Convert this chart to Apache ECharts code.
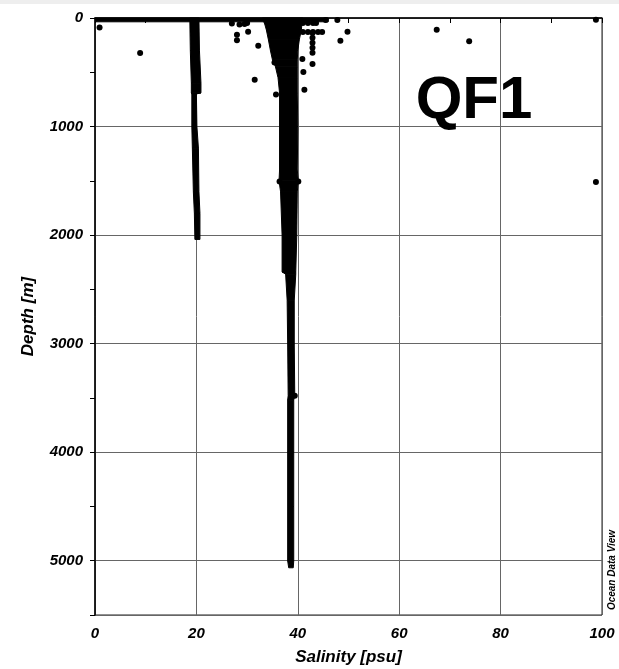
<!DOCTYPE html>
<html lang="en">
<head>
<meta charset="UTF-8">
<title>QF1 Salinity</title>
<script src="https://cdn.jsdelivr.net/npm/echarts@6/dist/echarts.min.js"></script>
<style>
    html, body { margin: 0; padding: 0; background: #fff; }
    #chart { width: 619px; height: 669px; }
</style>
</head>
<body>
<div id="chart"></div>
<script>
    // dense cloud near 20 psu (outer edges)
    var leftDepth = [0, 300, 600, 690, 700, 1000, 1200, 1600, 1800, 2040];
    var leftMin   = [18.7, 18.8, 19.0, 19.0, 19.1, 19.1, 19.2, 19.4, 19.6, 19.7];
    var leftMax   = [20.5, 20.6, 20.9, 20.9, 20.0, 20.1, 20.4, 20.5, 20.7, 20.7];

    // main cloud near 38 psu
    var mainDepth = [0, 60, 110, 200, 300, 385, 450, 550, 690, 1000, 1400, 1500, 1600, 2000, 2340, 2360, 2600, 3000, 3480, 3520, 4000, 4500, 5000, 5065];
    var mainMin   = [33.0, 33.5, 33.8, 34.2, 34.6, 35.0, 35.6, 36.1, 36.4, 36.4, 36.4, 36.3, 36.6, 36.9, 36.9, 37.6, 37.9, 38.0, 38.1, 38.0, 38.0, 38.0, 38.0, 38.2];
    var mainMax   = [41.0, 40.8, 40.7, 40.3, 40.0, 39.9, 39.9, 39.9, 39.9, 40.0, 39.9, 40.1, 39.9, 39.8, 39.6, 39.6, 39.3, 39.3, 39.4, 39.2, 39.2, 39.2, 39.2, 39.1];

    // surface band of points
    var surfDepth = [0, 35];
    var surfMin   = [0.2, 0.2];
    var surfMax   = [46.0, 46.0];

    // single stations
    var dotSal   = [0.9, 8.9, 28.0, 28.0, 30.2, 32.2, 31.5, 35.7, 35.4, 40.9, 41.1, 41.3, 42.9, 42.9, 42.9, 42.9, 42.9, 42.9,
                    49.8, 48.4, 67.4, 73.8, 98.8, 98.8, 41.0, 42.0, 43.0, 44.0, 44.8, 41.0, 42.0, 43.0, 43.6, 45.5, 47.8,
                    27.0, 28.5, 29.5, 30.0, 36.4, 40.1, 39.4];
    var dotDepth = [87, 323, 154, 206, 126, 255, 569, 704, 409, 378, 498, 661, 424, 135, 181, 227, 273, 320,
                    126, 209, 108, 215, 16, 1512, 130, 130, 130, 130, 128, 45, 45, 45, 45, 18, 18,
                    50, 60, 55, 45, 1506, 1506, 3480];

    var font = '"Liberation Sans", Arial, sans-serif';

    function bandSeries(depths, mins, maxs) {
        var rows = depths.map(function (d, i) { return [mins[i], maxs[i], d]; });
        return {
            type: 'custom',
            coordinateSystem: 'cartesian2d',
            silent: true,
            z: 3,
            data: rows.slice(0, rows.length - 1),
            encode: { x: [0, 1], y: 2 },
            renderItem: function (params, api) {
                var a = rows[params.dataIndex], b = rows[params.dataIndex + 1];
                var pts = [
                    api.coord([a[0], a[2]]), api.coord([a[1], a[2]]),
                    api.coord([b[1], b[2]]), api.coord([b[0], b[2]])
                ];
                return { type: 'polygon', shape: { points: pts }, style: { fill: '#000', stroke: '#000', lineWidth: 1 } };
            }
        };
    }

    var myChart = echarts.init(document.getElementById('chart'));
    var option = {
        animation: false,
        grid: { left: 95, top: 18, width: 507, height: 597, outerBoundsMode: 'none', containLabel: false,
                show: true, borderColor: '#222', borderWidth: 1 },
        graphic: [
            { type: 'rect', shape: { x: 0, y: 0, width: 619, height: 4 }, style: { fill: '#eeeeee' } },
            { type: 'text', x: 474, y: 101, z: 10,
              style: { text: 'QF1', font: 'bold 60px ' + font, align: 'center', verticalAlign: 'middle', fill: '#000' } },
            { type: 'text', x: 612, y: 570, rotation: Math.PI / 2, z: 10,
              style: { text: 'Ocean Data View', font: 'italic bold 10px ' + font, align: 'center', verticalAlign: 'middle', fill: '#000' } }
        ],
        xAxis: {
            type: 'value', min: 0, max: 100, interval: 20,
            name: 'Salinity [psu]', nameLocation: 'middle', nameGap: 34,
            nameTextStyle: { fontFamily: font, fontSize: 17, fontWeight: 'bold', fontStyle: 'italic', color: '#000' },
            axisLine: { show: true, lineStyle: { color: '#000', width: 1.5 } },
            axisTick: { show: true, length: 5, lineStyle: { color: '#000' } },
            minorTick: { show: true, splitNumber: 2, length: 5, lineStyle: { color: '#000' } },
            axisLabel: { margin: 11, fontFamily: font, fontSize: 15, fontWeight: 'bold', fontStyle: 'italic', color: '#000' },
            splitLine: { show: true, lineStyle: { color: '#666', width: 1 } }
        },
        yAxis: [{
            type: 'value', min: 0, max: 5500, interval: 500, inverse: true,
            name: 'Depth [m]', nameLocation: 'middle', nameGap: 58,
            nameTextStyle: { fontFamily: font, fontSize: 17, fontWeight: 'bold', fontStyle: 'italic', color: '#000' },
            axisLine: { show: true, lineStyle: { color: '#000', width: 1.5 } },
            axisTick: { show: true, length: 5, lineStyle: { color: '#000' } },
            axisLabel: {
                margin: 12, fontFamily: font, fontSize: 15, fontWeight: 'bold', fontStyle: 'italic', color: '#000',
                formatter: function (v) { return v % 1000 === 0 ? String(v) : ''; }
            },
            splitLine: { show: false }
        }, {
            type: 'value', min: 0, max: 5500, interval: 1000, inverse: true, position: 'left',
            axisLine: { show: false }, axisTick: { show: false }, axisLabel: { show: false },
            splitLine: { show: true, lineStyle: { color: '#666', width: 1 } }
        }],
        series: [
            bandSeries(surfDepth, surfMin, surfMax),
            bandSeries(leftDepth, leftMin, leftMax),
            bandSeries(mainDepth, mainMin, mainMax),
            {
                type: 'scatter',
                symbol: 'circle',
                symbolSize: 6,
                z: 4,
                itemStyle: { color: '#000', opacity: 1 },
                data: dotSal.map(function (s, i) { return [s, dotDepth[i]]; })
            }
        ]
    };
    myChart.setOption(option);
</script>
</body>
</html>
